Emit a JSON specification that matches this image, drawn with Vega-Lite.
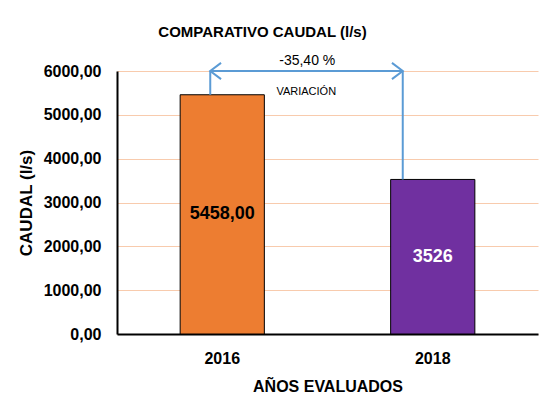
{
  "$schema": "https://vega.github.io/schema/vega-lite/v6.json",
  "width": 421,
  "height": 263,
  "autosize": {"type": "none"},
  "padding": {"left": 117, "top": 71, "right": 15, "bottom": 82},
  "background": "white",
  "config": {
    "font": "Liberation Sans",
    "view": {"stroke": null},
    "axis": {"labelFont": "Liberation Sans", "titleFont": "Liberation Sans"}
  },
  "title": {
    "text": "COMPARATIVO CAUDAL (l/s)",
    "fontSize": 15,
    "fontWeight": "bold",
    "color": "#000000",
    "anchor": "middle",
    "dx": -65,
    "offset": 14
  },
  "datasets": {
    "bars": [
      {"year": "2016", "caudal": 5458, "label": "5458,00"},
      {"year": "2018", "caudal": 3526, "label": "3526"}
    ]
  },
  "layer": [
    {
      "data": {"name": "bars"},
      "mark": {"type": "bar", "stroke": "#000000", "strokeWidth": 1},
      "encoding": {
        "x": {
          "field": "year",
          "type": "nominal",
          "scale": {"paddingInner": 0.6, "paddingOuter": 0.3},
          "axis": {
            "title": "AÑOS EVALUADOS",
            "titleFontSize": 16,
            "titleFontWeight": "bold",
            "titleColor": "#000000",
            "titlePadding": 12,
            "labelAngle": 0,
            "labelFontSize": 16,
            "labelFontWeight": "bold",
            "labelColor": "#000000",
            "labelPadding": 16,
            "ticks": false,
            "tickSize": 0,
            "domainColor": "#000000",
            "domainWidth": 2,
            "grid": false
          }
        },
        "y": {
          "field": "caudal",
          "type": "quantitative",
          "scale": {"domain": [0, 6000], "nice": false},
          "axis": {
            "title": "CAUDAL (l/s)",
            "titleFontSize": 17,
            "titleFontWeight": "bold",
            "titleColor": "#000000",
            "titlePadding": 8,
            "values": [0, 1000, 2000, 3000, 4000, 5000, 6000],
            "labelExpr": "replace(format(datum.value, '.2f'), '.', ',')",
            "labelFontSize": 16,
            "labelFontWeight": "bold",
            "labelColor": "#000000",
            "labelPadding": 16,
            "ticks": false,
            "tickSize": 0,
            "domainColor": "#000000",
            "domainWidth": 2,
            "grid": true,
            "gridColor": "#F8CBAD",
            "gridWidth": 1
          }
        },
        "color": {
          "field": "year",
          "type": "nominal",
          "scale": {"domain": ["2016", "2018"], "range": ["#ED7D31", "#7030A0"]},
          "legend": null
        }
      }
    },
    {
      "data": {"name": "bars"},
      "transform": [{"calculate": "datum.caudal / 2", "as": "mid"}],
      "mark": {"type": "text", "fontSize": 18, "fontWeight": "bold", "baseline": "middle", "align": "center"},
      "encoding": {
        "x": {"field": "year", "type": "nominal"},
        "y": {"field": "mid", "type": "quantitative"},
        "text": {"field": "label"},
        "color": {"condition": {"test": "datum.year == '2018'", "value": "#FFFFFF"}, "value": "#000000"}
      }
    },
    {
      "data": {"values": [{"year": "2016", "caudal": 5458}]},
      "mark": {"type": "rule", "color": "#5B9BD5", "strokeWidth": 2, "xOffset": -12},
      "encoding": {
        "x": {"field": "year", "type": "nominal"},
        "y": {"field": "caudal", "type": "quantitative"},
        "y2": {"datum": 6000}
      }
    },
    {
      "data": {"values": [{"year": "2018", "caudal": 3526}]},
      "mark": {"type": "rule", "color": "#5B9BD5", "strokeWidth": 2, "xOffset": -30},
      "encoding": {
        "x": {"field": "year", "type": "nominal"},
        "y": {"field": "caudal", "type": "quantitative"},
        "y2": {"datum": 6000}
      }
    },
    {
      "data": {"values": [{"from": "2016", "to": "2018", "level": 6000}]},
      "mark": {"type": "rule", "color": "#5B9BD5", "strokeWidth": 2, "xOffset": -12, "x2Offset": -30},
      "encoding": {
        "x": {"field": "from", "type": "nominal"},
        "x2": {"field": "to"},
        "y": {"field": "level", "type": "quantitative"}
      }
    },
    {
      "data": {"values": [{"year": "2016", "level": 6000}]},
      "mark": {"type": "point", "shape": "M1.2,-0.9L0,0L1.2,0.9", "filled": false, "stroke": "#5B9BD5", "strokeWidth": 2, "size": 324, "opacity": 1, "xOffset": -12},
      "encoding": {
        "x": {"field": "year", "type": "nominal"},
        "y": {"field": "level", "type": "quantitative"}
      }
    },
    {
      "data": {"values": [{"year": "2018", "level": 6000}]},
      "mark": {"type": "point", "shape": "M-1.2,-0.9L0,0L-1.2,0.9", "filled": false, "stroke": "#5B9BD5", "strokeWidth": 2, "size": 324, "opacity": 1, "xOffset": -30},
      "encoding": {
        "x": {"field": "year", "type": "nominal"},
        "y": {"field": "level", "type": "quantitative"}
      }
    },
    {
      "data": {"values": [{"year": "2016", "level": 6000, "note": "-35,40 %"}]},
      "mark": {"type": "text", "fontSize": 14, "color": "#000000", "baseline": "middle", "align": "center", "xOffset": 85, "dy": -10},
      "encoding": {
        "x": {"field": "year", "type": "nominal"},
        "y": {"field": "level", "type": "quantitative"},
        "text": {"field": "note"}
      }
    },
    {
      "data": {"values": [{"year": "2016", "level": 6000, "note": "VARIACIÓN"}]},
      "mark": {"type": "text", "fontSize": 11, "color": "#000000", "baseline": "middle", "align": "center", "xOffset": 84, "dy": 21},
      "encoding": {
        "x": {"field": "year", "type": "nominal"},
        "y": {"field": "level", "type": "quantitative"},
        "text": {"field": "note"}
      }
    }
  ]
}
